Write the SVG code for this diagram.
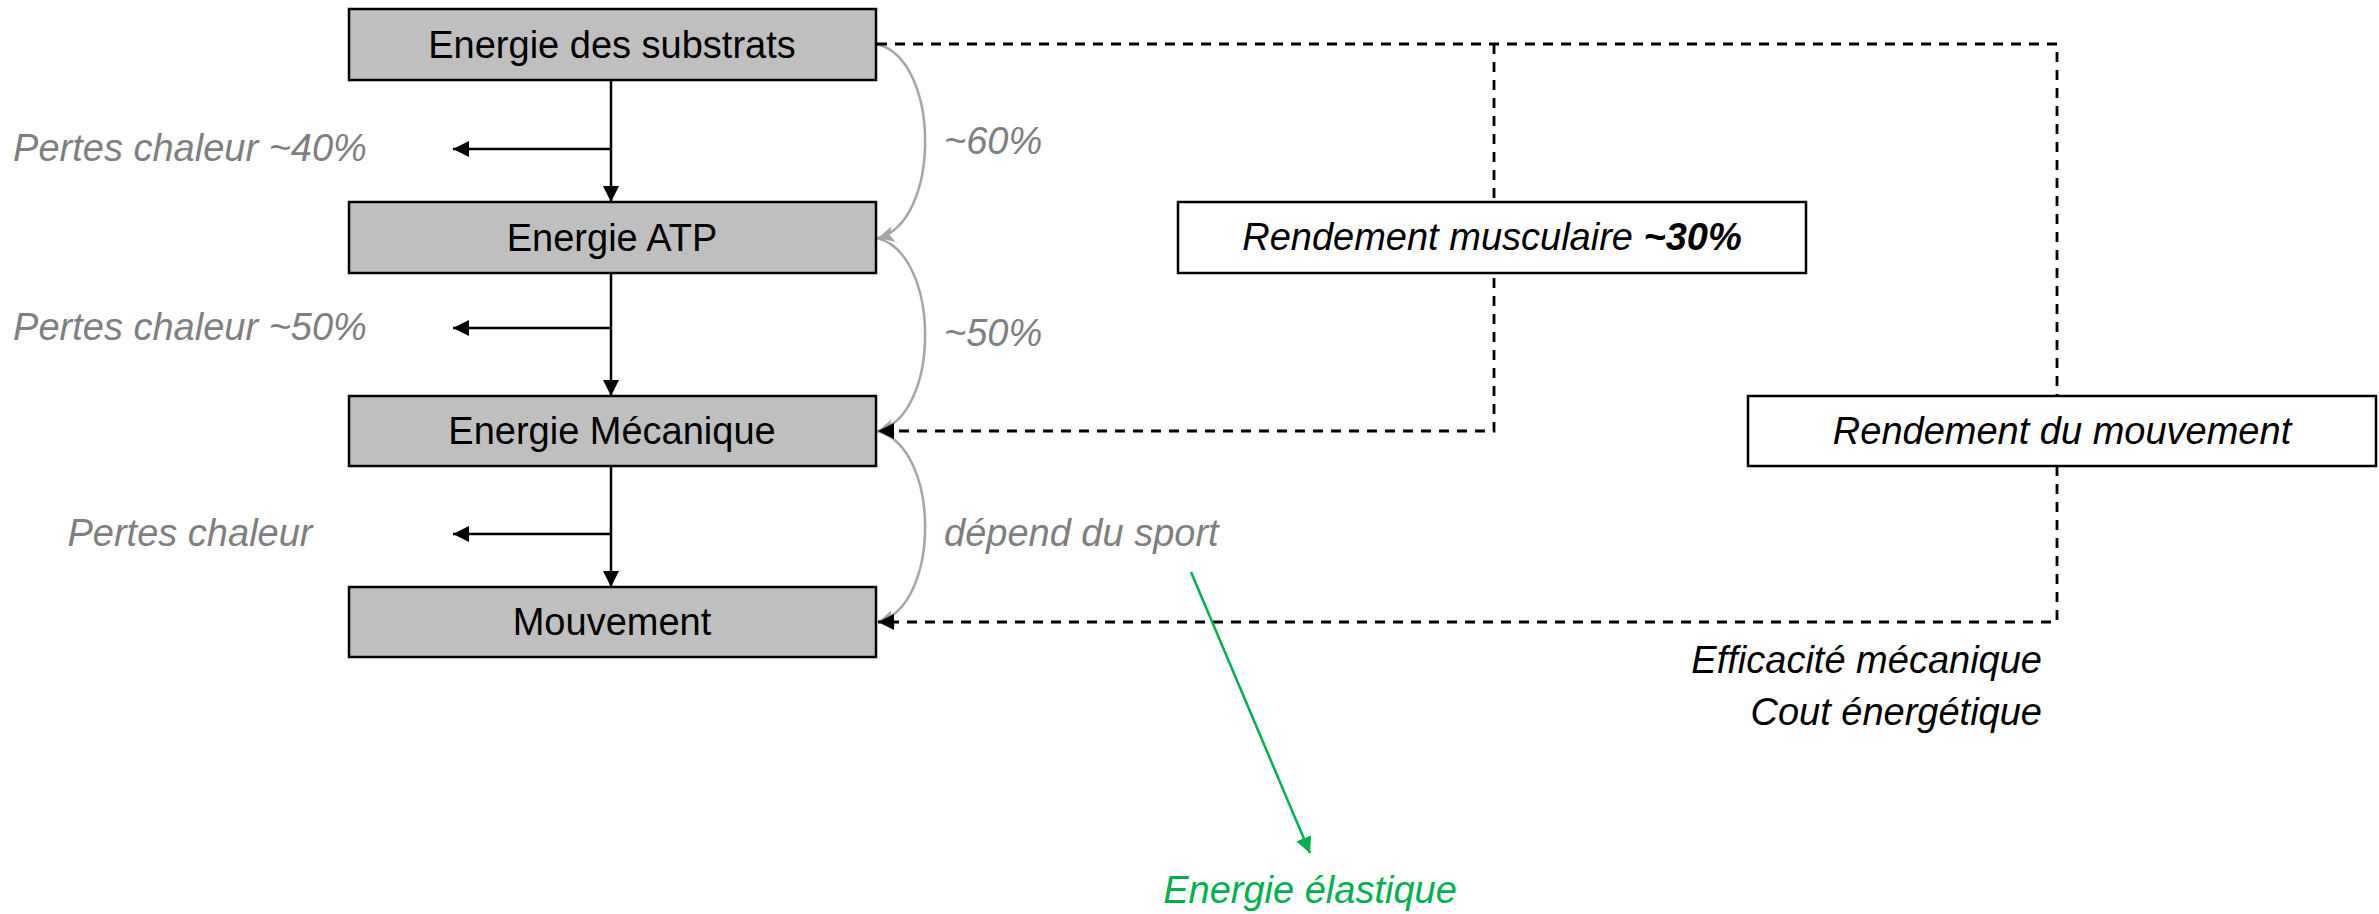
<svg xmlns="http://www.w3.org/2000/svg" width="2379" height="914" viewBox="0 0 2379 914">
<style>
text{font-family:"Liberation Sans",Arial,sans-serif;font-size:38px}
.box{fill:#bfbfbf;stroke:#000;stroke-width:2.5}
.wbox{fill:#fff;stroke:#000;stroke-width:2.5}
.c{text-anchor:middle}
.it{font-style:italic}
.gray{fill:#7f7f7f}
.blk{stroke:#000;stroke-width:2.5;fill:none}
.dash{stroke:#000;stroke-width:2.8;fill:none;stroke-dasharray:10 8}
.gc{stroke:#a6a6a6;stroke-width:2.5;fill:none}
.green{stroke:#00b050;stroke-width:2.5;fill:none}
</style>
<defs>
<marker id="ab" markerUnits="userSpaceOnUse" markerWidth="17" markerHeight="16" refX="16" refY="8" orient="auto"><path d="M0,0 L16,8 L0,16 z" fill="#000"/></marker>
<marker id="ag" markerUnits="userSpaceOnUse" markerWidth="17" markerHeight="16" refX="16" refY="8" orient="auto"><path d="M0,0 L16,8 L0,16 L4,8 z" fill="#a6a6a6"/></marker>
<marker id="agr" markerUnits="userSpaceOnUse" markerWidth="17" markerHeight="16" refX="16" refY="8" orient="auto"><path d="M0,0 L16,8 L0,16 z" fill="#00b050"/></marker>
</defs>
<g id="connectors">
<path class="blk" d="M611,80 V202" marker-end="url(#ab)"/>
<path class="blk" d="M611,273 V396" marker-end="url(#ab)"/>
<path class="blk" d="M611,466 V587" marker-end="url(#ab)"/>
<path class="blk" d="M611,149 H453" marker-end="url(#ab)"/>
<path class="blk" d="M611,328 H453" marker-end="url(#ab)"/>
<path class="blk" d="M611,534 H453" marker-end="url(#ab)"/>
<path class="gc" d="M877,44 C941,60 941,222 878,238" marker-end="url(#ag)"/>
<path class="gc" d="M877,238 C941,254 941,415 878,431" marker-end="url(#ag)"/>
<path class="gc" d="M877,431 C941,447 941,606 878,622" marker-end="url(#ag)"/>
<path class="dash" d="M877,44 H2057 V622 H878" marker-end="url(#ab)"/>
<path class="dash" d="M1494,44 V431 H878" marker-end="url(#ab)"/>
<path class="green" d="M1191,572 L1310,853" marker-end="url(#agr)"/>
</g>
<g id="n1"><rect class="box" x="349" y="9" width="527" height="71"/><text class="c" x="612" y="58">Energie des substrats</text></g>
<g id="n2"><rect class="box" x="349" y="202" width="527" height="71"/><text class="c" x="612" y="251">Energie ATP</text></g>
<g id="n3"><rect class="box" x="349" y="396" width="527" height="70"/><text class="c" x="612" y="444">Energie Mécanique</text></g>
<g id="n4"><rect class="box" x="349" y="587" width="527" height="70"/><text class="c" x="612" y="635">Mouvement</text></g>
<g id="n5"><rect class="wbox" x="1178" y="202" width="628" height="71"/><text class="c it" x="1492" y="250">Rendement musculaire <tspan font-weight="bold">~30%</tspan></text></g>
<g id="n6"><rect class="wbox" x="1748" y="396" width="628" height="70"/><text class="c it" x="2062" y="444">Rendement du mouvement</text></g>
<g id="labels">
<text class="c it gray" x="190" y="161">Pertes chaleur ~40%</text>
<text class="c it gray" x="190" y="340">Pertes chaleur ~50%</text>
<text class="c it gray" x="190" y="546">Pertes chaleur</text>
<text class="it gray" x="944" y="154">~60%</text>
<text class="it gray" x="944" y="346">~50%</text>
<text class="it gray" x="944" y="546">dépend du sport</text>
<text class="it" x="2042" y="673" text-anchor="end">Efficacité mécanique</text>
<text class="it" x="2042" y="725" text-anchor="end">Cout énergétique</text>
<text class="c it" x="1310" y="903" fill="#00b050">Energie élastique</text>
</g>
</svg>
